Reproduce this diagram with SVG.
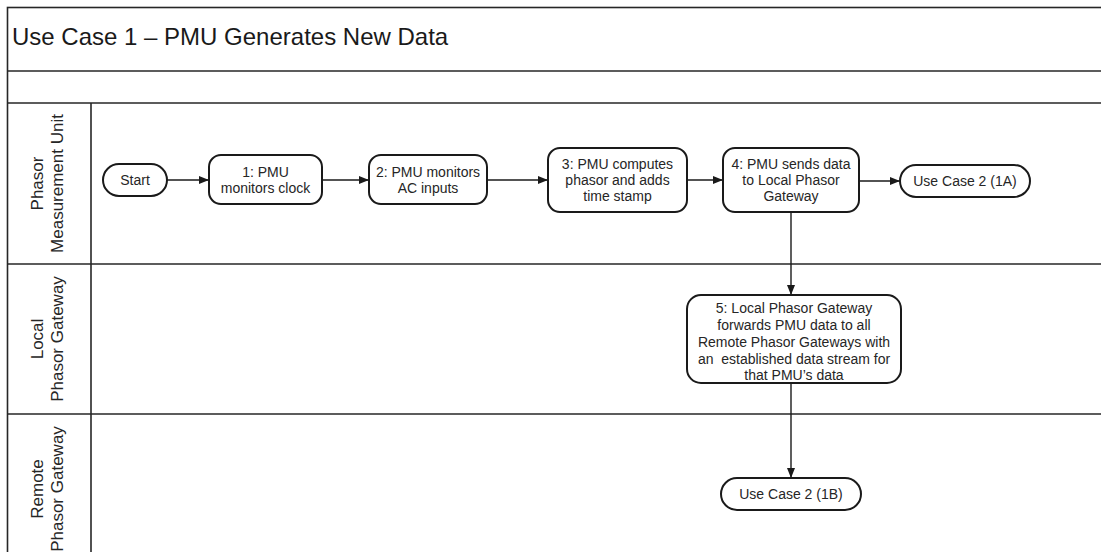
<svg xmlns="http://www.w3.org/2000/svg" width="1101" height="552" viewBox="0 0 1101 552">
<defs>
<style>
.frame{fill:none;stroke:#262626;stroke-width:1.6}
.node{fill:#ffffff;stroke:#1a1a1a;stroke-width:2}
.t{font-family:"Liberation Sans",Arial,sans-serif;font-size:14px;fill:#262626;text-anchor:middle}
.lane{font-family:"Liberation Sans",Arial,sans-serif;font-size:17px;fill:#262626;text-anchor:middle}
.title{font-family:"Liberation Sans",Arial,sans-serif;font-size:24px;fill:#1a1a1a}
.c{fill:none;stroke:#1a1a1a;stroke-width:1.4}
</style>
<marker id="ah" markerWidth="10" markerHeight="10" viewBox="0 0 10 10" refX="10" refY="5" orient="auto" markerUnits="userSpaceOnUse">
<path d="M0,1 L10,5 L0,9 Z" fill="#1a1a1a"/>
</marker>
</defs>
<rect x="0" y="0" width="1101" height="552" fill="#ffffff"/>
<g id="pool">
<rect class="frame" x="7.5" y="7.5" width="1110" height="570"/>
<line class="frame" x1="7.5" y1="71" x2="1101" y2="71"/>
<line class="frame" x1="7.5" y1="103" x2="1101" y2="103"/>
<line class="frame" x1="7.5" y1="264" x2="1101" y2="264"/>
<line class="frame" x1="7.5" y1="414" x2="1101" y2="414"/>
<line class="frame" x1="91" y1="103" x2="91" y2="552"/>
<text class="title" x="12" y="45">Use Case 1 – PMU Generates New Data</text>
</g>
<g id="lane-pmu">
<text class="lane" transform="translate(43,183.5) rotate(-90)">Phasor</text>
<text class="lane" transform="translate(63,183.5) rotate(-90)">Measurement Unit</text>
</g>
<g id="lane-local">
<text class="lane" transform="translate(43,339) rotate(-90)">Local</text>
<text class="lane" transform="translate(63,339) rotate(-90)">Phasor Gateway</text>
</g>
<g id="lane-remote">
<text class="lane" transform="translate(43,489) rotate(-90)">Remote</text>
<text class="lane" transform="translate(63,489) rotate(-90)">Phasor Gateway</text>
</g>
<g id="connectors">
<line class="c" x1="167" y1="180" x2="209" y2="180" marker-end="url(#ah)"/>
<line class="c" x1="322" y1="180" x2="369" y2="180" marker-end="url(#ah)"/>
<line class="c" x1="487" y1="180" x2="548" y2="180" marker-end="url(#ah)"/>
<line class="c" x1="687" y1="180" x2="723" y2="180" marker-end="url(#ah)"/>
<line class="c" x1="859" y1="181" x2="900" y2="181" marker-end="url(#ah)"/>
<line class="c" x1="791" y1="212" x2="791" y2="295" marker-end="url(#ah)"/>
<line class="c" x1="791" y1="383" x2="791" y2="478" marker-end="url(#ah)"/>
</g>
<g id="start">
<rect class="node" x="103" y="164" width="64" height="32" rx="16"/>
<text class="t" x="135" y="185">Start</text>
</g>
<g id="step1">
<rect class="node" x="209" y="155" width="113" height="49" rx="12"/>
<text class="t" x="265.5" y="177">1: PMU</text>
<text class="t" x="265.5" y="193">monitors clock</text>
</g>
<g id="step2">
<rect class="node" x="369" y="155" width="118" height="49" rx="12"/>
<text class="t" x="428" y="177">2: PMU monitors</text>
<text class="t" x="428" y="193">AC inputs</text>
</g>
<g id="step3">
<rect class="node" x="548" y="148" width="139" height="64" rx="12"/>
<text class="t" x="617.5" y="169">3: PMU computes</text>
<text class="t" x="617.5" y="185">phasor and adds</text>
<text class="t" x="617.5" y="201">time stamp</text>
</g>
<g id="step4">
<rect class="node" x="723" y="148" width="136" height="64" rx="12"/>
<text class="t" x="791" y="169">4: PMU sends data</text>
<text class="t" x="791" y="185">to Local Phasor</text>
<text class="t" x="791" y="201">Gateway</text>
</g>
<g id="uc2-1a">
<rect class="node" x="900" y="165" width="130" height="32" rx="16"/>
<text class="t" x="965" y="186">Use Case 2 (1A)</text>
</g>
<g id="step5">
<rect class="node" x="687" y="295" width="214" height="88" rx="14"/>
<text class="t" x="794" y="313">5: Local Phasor Gateway</text>
<text class="t" x="794" y="330">forwards PMU data to all</text>
<text class="t" x="794" y="347">Remote Phasor Gateways with</text>
<text class="t" x="794" y="364" xml:space="preserve">an  established data stream for</text>
<text class="t" x="794" y="380">that PMU’s data</text>
</g>
<g id="uc2-1b">
<rect class="node" x="721" y="478" width="140" height="32" rx="16"/>
<text class="t" x="791" y="499">Use Case 2 (1B)</text>
</g>
</svg>
